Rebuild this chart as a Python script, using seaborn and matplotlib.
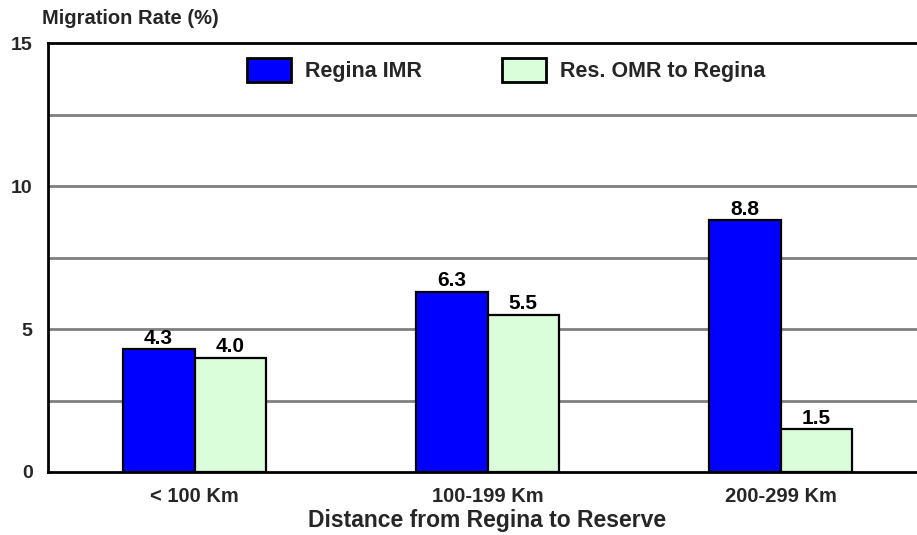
import matplotlib
matplotlib.use("Agg")
import matplotlib.pyplot as plt
import seaborn as sns
import pandas as pd
from matplotlib.ticker import FixedLocator

categories = ["< 100 Km", "100-199 Km", "200-299 Km"]
series_names = ["Regina IMR", "Res. OMR to Regina"]
regina_imr = [4.3, 6.3, 8.8]
res_omr = [4.0, 5.5, 1.5]
colors = ["#0000FF", "#DAFDDA"]

rows = []
for c, v in zip(categories, regina_imr):
    rows.append({"cat": c, "series": series_names[0], "val": v})
for c, v in zip(categories, res_omr):
    rows.append({"cat": c, "series": series_names[1], "val": v})
df = pd.DataFrame(rows)

sns.set_theme(style="white")
plt.rcParams['font.family'] = ['Liberation Sans', 'DejaVu Sans']
plt.rcParams['font.weight'] = 'bold'

W, H = 917, 535
fig = plt.figure(figsize=(W / 100, H / 100), dpi=100)
ax = fig.add_axes([48 / W, 63 / H, 879 / W, 429 / H])

sns.barplot(data=df, x="cat", y="val", hue="series", palette=colors,
            width=0.49, edgecolor="black", linewidth=1.6, saturation=1,
            ax=ax, zorder=3, legend=True)

for cont in ax.containers:
    ax.bar_label(cont, fmt="%.1f", padding=1, fontsize=15, fontweight="bold", color="black")

ax.set_xlim(-0.5, 2.5)
ax.set_ylim(0, 15)
ax.yaxis.set_major_locator(FixedLocator([0, 5, 10, 15]))
ax.yaxis.set_minor_locator(FixedLocator([2.5, 7.5, 12.5]))
ax.grid(False)
for yv in [2.5, 5, 7.5, 10, 12.5]:
    ax.axhline(yv, color="#808080", lw=2, zorder=1)
ax.set_axisbelow(True)

ax.xaxis.set_minor_locator(FixedLocator([0.5, 1.5]))
ax.tick_params(axis="x", which="major", length=0, pad=11, labelsize=14.5)
ax.tick_params(axis="x", which="minor", direction="inout", length=12, width=1, color="#808080")
ax.tick_params(axis="y", which="major", direction="inout", length=16, width=2, color="#808080", labelsize=14, pad=3)
ax.tick_params(axis="y", which="minor", length=0)
for lab in ax.get_xticklabels() + ax.get_yticklabels():
    lab.set_fontweight("bold")

for side in ["left", "bottom", "top"]:
    ax.spines[side].set_visible(True)
    ax.spines[side].set_color("black")
    ax.spines[side].set_linewidth(2)
ax.spines["right"].set_visible(False)

ax.set_ylabel("")
ax.set_xlabel("Distance from Regina to Reserve", fontsize=16.5, fontweight="bold", labelpad=2)
fig.text(42 / W, 1 - 18 / H, "Migration Rate (%)", fontsize=14.5, fontweight="bold", va="center", ha="left")

leg = ax.legend(loc="center", bbox_to_anchor=(506 / W, 1 - 70 / H), bbox_transform=fig.transFigure,
                ncol=2, frameon=False, fontsize=15.5, handlelength=2.05, handleheight=1.4,
                columnspacing=3.7, handletextpad=0.65)
for t in leg.get_texts():
    t.set_fontweight("bold")
for p in leg.get_patches():
    p.set_linewidth(2)

fig.savefig("out.png", dpi=100)
